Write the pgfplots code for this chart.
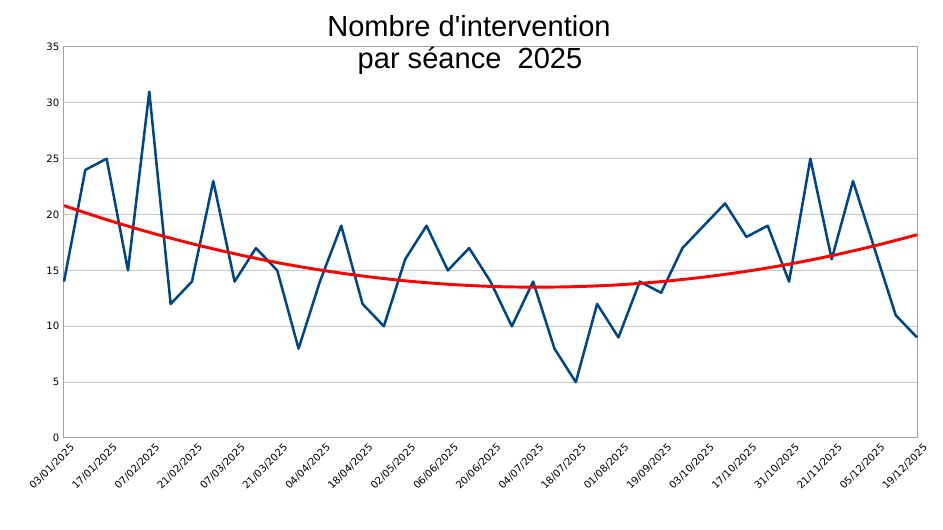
\documentclass[border=0pt]{standalone}
\usepackage{pgfplots}
\pgfplotsset{compat=1.18}
\usepackage{fontspec}
\setmainfont{DejaVu Sans}
\newfontfamily\titre{Liberation Sans}
\definecolor{serie}{HTML}{004586}
\definecolor{grille}{HTML}{C8C8C8}
\begin{document}
\begin{tikzpicture}
\path[use as bounding box] (0pt,0pt) rectangle (707.25pt,397.5pt);
\begin{axis}[
  at={(48pt,69pt)}, anchor=south west,
  scale only axis, width=639.75pt, height=293.25pt,
  xmin=0, xmax=40, ymin=0, ymax=35,
  ytick={0,5,...,35},
  xtick={0,2,...,40},
  xticklabels={03/01/2025,17/01/2025,07/02/2025,21/02/2025,07/03/2025,21/03/2025,04/04/2025,18/04/2025,02/05/2025,06/06/2025,20/06/2025,04/07/2025,18/07/2025,01/08/2025,19/09/2025,03/10/2025,17/10/2025,31/10/2025,21/11/2025,05/12/2025,19/12/2025},
  x tick label style={rotate=45, anchor=north east, font=\fontsize{7.6}{9}\selectfont, xshift=2.5pt, yshift=-3.5pt, inner sep=2pt},
  y tick label style={font=\fontsize{7.6}{9}\selectfont},
  /pgf/number format/assume math mode=true,
  major tick length=0pt,
  ymajorgrids, grid style={grille, line width=0.75pt},
  axis line style={grille!80!black, line width=0.75pt},
  clip=false,
]
\addplot[serie, line width=1.9pt, line join=round] coordinates {
(0,14) (1,24) (2,25) (3,15) (4,31) (5,12) (6,14) (7,23) (8,14) (9,17)
(10,15) (11,8) (12,14) (13,19) (14,12) (15,10) (16,16) (17,19) (18,15) (19,17)
(20,14) (21,10) (22,14) (23,8) (24,5) (25,12) (26,9) (27,14) (28,13) (29,17)
(30,19) (31,21) (32,18) (33,19) (34,14) (35,25) (36,16) (37,23) (38,17) (39,11)
(40,9)};
\addplot[red, line width=2.2pt, smooth] coordinates {
(0,20.80) (2,19.54) (4,18.41) (6,17.39) (8,16.49) (10,15.70) (12,15.04)
(14,14.50) (16,14.07) (18,13.76) (20,13.57) (22,13.50) (24,13.55) (26,13.71)
(28,14.00) (30,14.40) (32,14.92) (34,15.56) (36,16.32) (38,17.20) (40,18.19)};
\end{axis}
\node[anchor=base, font=\titre\fontsize{21.8}{26}\selectfont] at (351.75pt,369.75pt) {Nombre d\textquotesingle intervention};
\node[anchor=base, font=\titre\fontsize{21.8}{26}\selectfont] at (352.5pt,345.75pt) {par séance\ \ 2025};
\end{tikzpicture}
\end{document}
